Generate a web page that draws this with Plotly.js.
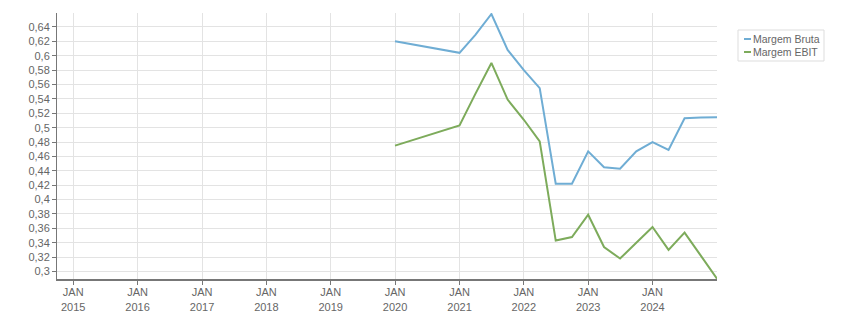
<!DOCTYPE html>
<html>
<head>
<meta charset="utf-8">
<script src="https://cdn.plot.ly/plotly-3.0.1.min.js"></script>
<style>html,body{margin:0;padding:0;background:#fff;}#chart{width:851px;height:313px;}</style>
</head>
<body>
<div id="chart"></div>
<script>
var dates = ['2020-01-01','2021-01-01','2021-04-01','2021-07-01','2021-10-01','2022-01-01','2022-04-01','2022-07-01','2022-10-01','2023-01-01','2023-04-01','2023-07-01','2023-10-01','2024-01-01','2024-04-01','2024-07-01','2024-10-01','2025-01-01'];
var margemBruta = [0.620,0.604,0.629,0.658,0.608,0.580,0.555,0.422,0.422,0.467,0.445,0.443,0.467,0.480,0.469,0.513,0.514,0.5145];
var margemEbit  = [0.475,0.503,0.547,0.590,0.539,0.511,0.481,0.343,0.348,0.379,0.334,0.318,0.340,0.362,0.330,0.354,0.322,0.290];
var tickDates = ['2015-01-01','2016-01-01','2017-01-01','2018-01-01','2019-01-01','2020-01-01','2021-01-01','2022-01-01','2023-01-01','2024-01-01'];
var tickLabels = ['JAN<br>2015','JAN<br>2016','JAN<br>2017','JAN<br>2018','JAN<br>2019','JAN<br>2020','JAN<br>2021','JAN<br>2022','JAN<br>2023','JAN<br>2024'];
var yTicks = [0.3,0.32,0.34,0.36,0.38,0.4,0.42,0.44,0.46,0.48,0.5,0.52,0.54,0.56,0.58,0.6,0.62,0.64];
var seriesNames = ['Margem Bruta', 'Margem EBIT'];
var seriesColors = ['#6fadd4', '#7dab5b'];

var traces = [
  {x: dates, y: margemBruta, type: 'scatter', mode: 'lines', name: seriesNames[0], line: {color: seriesColors[0], width: 2}, showlegend: false},
  {x: dates, y: margemEbit, type: 'scatter', mode: 'lines', name: seriesNames[1], line: {color: seriesColors[1], width: 2}, showlegend: false}
];

// plot area in pixels: x 57..717, y 13..279
function px(x) { return (x - 57) / 660; }
function py(y) { return (279 - y) / 266; }

var shapes = [
  {type: 'rect', xref: 'paper', yref: 'paper', x0: px(738), x1: px(824), y0: py(30), y1: py(61),
   line: {color: '#dddddd', width: 1}, fillcolor: '#ffffff', layer: 'above'}
];
var annotations = [];
var rowY = [39, 52];
for (var i = 0; i < seriesNames.length; i++) {
  shapes.push({type: 'line', xref: 'paper', yref: 'paper', x0: px(744), x1: px(751), y0: py(rowY[i]), y1: py(rowY[i]),
    line: {color: seriesColors[i], width: 2}, layer: 'above'});
  annotations.push({xref: 'paper', yref: 'paper', x: px(752), y: py(rowY[i]), xanchor: 'left', yanchor: 'middle',
    text: seriesNames[i], showarrow: false, font: {size: 10.5, color: '#666'}, borderpad: 0});
}

var layout = {
  width: 851, height: 313,
  margin: {l: 57, r: 134, t: 13, b: 34, pad: 0, autoexpand: false},
  separators: ',.',
  paper_bgcolor: '#fff', plot_bgcolor: '#fff',
  font: {family: 'Liberation Sans, Arial, sans-serif', size: 11, color: '#666'},
  xaxis: {
    type: 'date', range: ['2014-10-01','2025-01-01'],
    tickmode: 'array', tickvals: tickDates, ticktext: tickLabels,
    showgrid: true, gridcolor: '#e3e3e3', gridwidth: 1,
    showline: true, linecolor: '#777', linewidth: 2,
    ticks: 'outside', ticklen: 4, tickcolor: '#777', tickwidth: 1,
    ticklabelstandoff: -2,
    tickfont: {size: 11, color: '#666'}, zeroline: false, fixedrange: true
  },
  yaxis: {
    range: [0.2896, 0.6594],
    tickmode: 'array', tickvals: yTicks,
    showgrid: true, gridcolor: '#e3e3e3', gridwidth: 1,
    showline: true, linecolor: '#777', linewidth: 1,
    ticks: 'outside', ticklen: 4, tickcolor: '#777',
    tickfont: {size: 11, color: '#666'}, zeroline: false, fixedrange: true
  },
  showlegend: false,
  shapes: shapes,
  annotations: annotations
};
Plotly.newPlot('chart', traces, layout, {displayModeBar: false, staticPlot: true});
</script>
</body>
</html>
